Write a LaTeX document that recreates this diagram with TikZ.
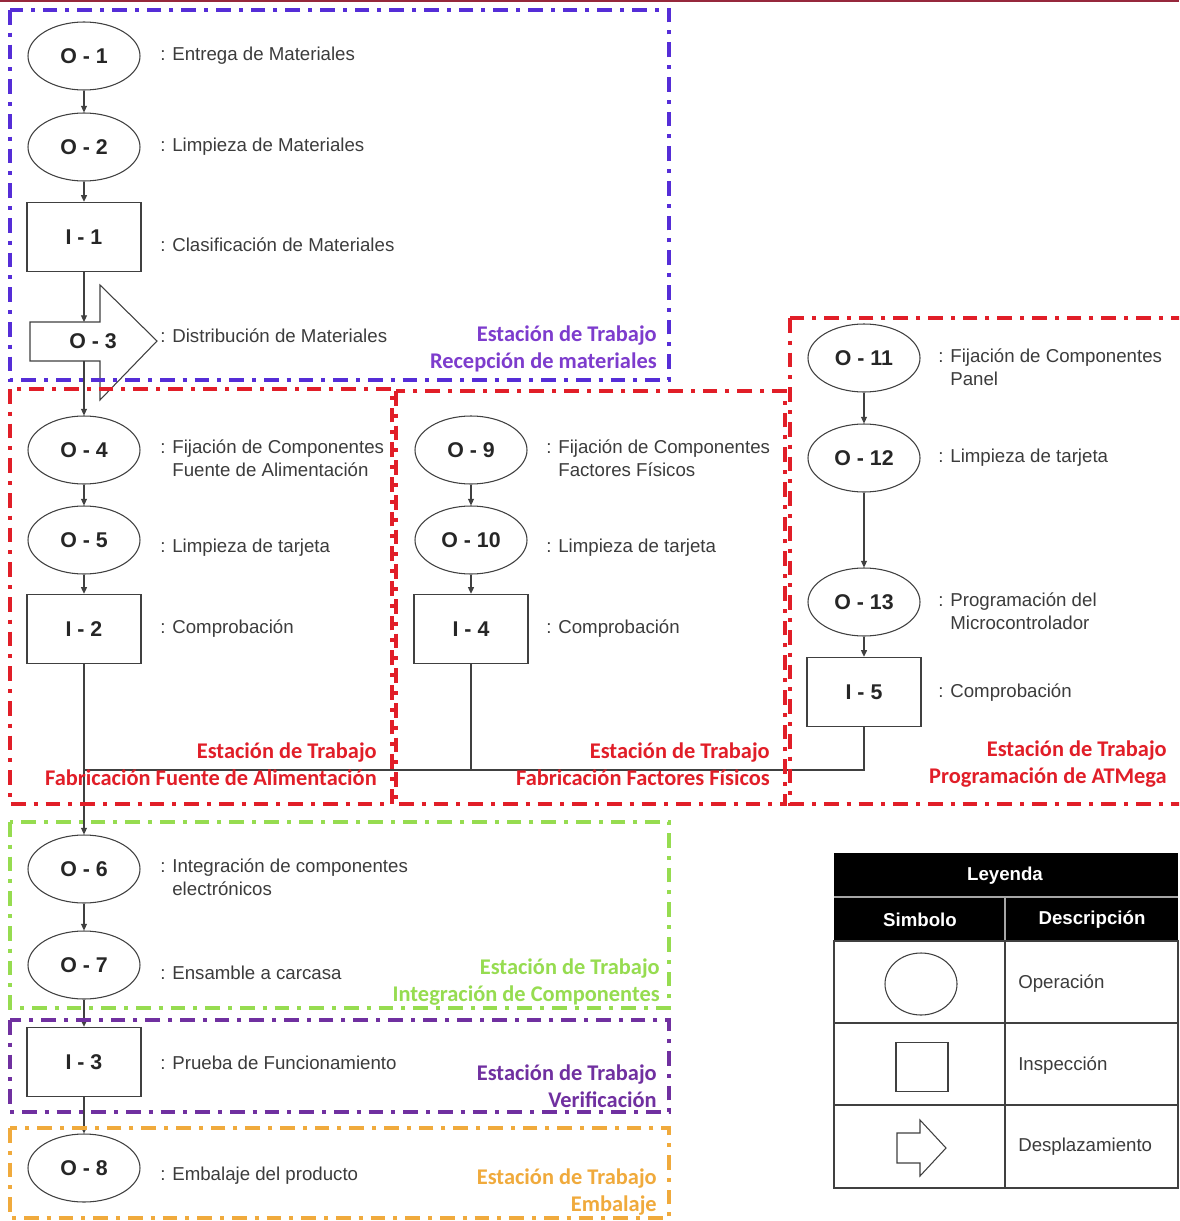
\documentclass[tikz,border=0pt]{standalone}
\usepackage{fontspec}
\setmainfont{Liberation Sans}
\newfontfamily\calibri{Carlito}
\usepackage{tikz}
\usetikzlibrary{arrows.meta,shapes.geometric,positioning}
\usepackage{xcolor}
\definecolor{lineagris}{RGB}{64,64,64}
\definecolor{textogris}{RGB}{60,60,60}
\definecolor{encabezado}{RGB}{150,40,60}
\definecolor{stazul}{RGB}{85,45,215}
\definecolor{stazultxt}{RGB}{125,60,205}
\definecolor{strojo}{RGB}{225,30,40}
\definecolor{stverde}{RGB}{150,220,80}
\definecolor{stmorado}{RGB}{112,48,160}
\definecolor{stnaranja}{RGB}{240,170,60}
\tikzstyle{operacion} = [ellipse, draw=lineagris, fill=white, line width=0.8pt, minimum width=84pt, minimum height=51pt, inner sep=0pt, font=\bfseries\fontsize{16}{19}\selectfont, text=black!85]
\tikzstyle{inspeccion} = [rectangle, draw=lineagris, fill=white, line width=0.8pt, minimum width=85.5pt, minimum height=52pt, inner sep=0pt, font=\bfseries\fontsize{16}{19}\selectfont, text=black!85]
\tikzstyle{desc} = [anchor=west, align=left, inner sep=0pt, font=\fontsize{14}{17}\selectfont, text=textogris]
\tikzstyle{flecha} = [-{Triangle[length=5pt,width=4.5pt]}, color=lineagris, line width=0.8pt]
\tikzstyle{linea} = [color=lineagris, line width=0.8pt]
\tikzstyle{estacion} = [line width=2.6pt, dash pattern=on 11pt off 6pt on 3pt off 6pt]
\tikzstyle{etiqueta} = [anchor=east, align=right, inner sep=0pt, font=\calibri\bfseries\fontsize{16.8}{20.5}\selectfont]

\begin{document}
\begin{tikzpicture}[x=0.75pt, y=-0.75pt]
\clip (0,0) rectangle (1179,1221);
\fill[white] (0,0) rectangle (1179,1221);
\draw[encabezado, line width=1.5pt] (0,0.5) -- (1179,0.5);

% Recepcion de materiales
\node[operacion] (o1) at (84,56) {O - 1};
\node[operacion] (o2) at (84,147) {O - 2};
\node[inspeccion] (i1) at (84,237) {I - 1};
\draw[linea] (30,322) -- (100,322) -- (100,285) -- (157,341) -- (100,400) -- (100,361) -- (30,361) -- cycle;
\node[font=\bfseries\fontsize{16}{19}\selectfont, text=black!85] (o3) at (93,341) {O - 3};
\coordinate (o3in) at (84,322);
\coordinate (o3out) at (84,361);
\node[desc] (do1) at (160,56) {: Entrega de Materiales};
\node[desc] (do2) at (160,147) {: Limpieza de Materiales};
\node[desc] (di1) at (160,245) {: Clasificación de Materiales};
\node[desc] (do3) at (160,336) {: Distribución de Materiales};

% Fuente de alimentacion
\node[operacion] (o4) at (84,450) {O - 4};
\node[operacion] (o5) at (84,540) {O - 5};
\node[inspeccion] (i2) at (84,629) {I - 2};
\node[desc] (do4) at (160,458) {: Fijación de Componentes\\\phantom{: }Fuente de Alimentación};
\node[desc] (do5) at (160,548) {: Limpieza de tarjeta};
\node[desc] (di2) at (160,629) {: Comprobación};

% Factores fisicos
\node[operacion] (o9) at (471,450) {O - 9};
\node[operacion] (o10) at (471,540) {O - 10};
\node[inspeccion] (i4) at (471,629) {I - 4};
\node[desc] (do9) at (546,458) {: Fijación de Componentes\\\phantom{: }Factores Físicos};
\node[desc] (do10) at (546,548) {: Limpieza de tarjeta};
\node[desc] (di4) at (546,629) {: Comprobación};

% ATMega
\node[operacion] (o11) at (864,358) {O - 11};
\node[operacion] (o12) at (864,458) {O - 12};
\node[operacion] (o13) at (864,602) {O - 13};
\node[inspeccion] (i5) at (864,692) {I - 5};
\node[desc] (do11) at (938,367) {: Fijación de Componentes\\\phantom{: }Panel};
\node[desc] (do12) at (938,458) {: Limpieza de tarjeta};
\node[desc] (do13) at (938,611) {: Programación del\\\phantom{: }Microcontrolador};
\node[desc] (di5) at (938,693) {: Comprobación};

% Integracion, verificacion y embalaje
\node[operacion] (o6) at (84,869) {O - 6};
\node[operacion] (o7) at (84,965) {O - 7};
\node[inspeccion] (i3) at (84,1062) {I - 3};
\node[operacion] (o8) at (84,1168) {O - 8};
\node[desc] (do6) at (160,877) {: Integración de componentes\\\phantom{: }electrónicos};
\node[desc] (do7) at (160,973) {: Ensamble a carcasa};
\node[desc] (di3) at (160,1063) {: Prueba de Funcionamiento};
\node[desc] (do8) at (160,1176) {: Embalaje del producto};

% Conexiones
\draw[flecha] (o1) -- (o2);
\draw[flecha] (o2) -- (i1);
\draw[flecha] (i1) -- (o3in);
\draw[flecha] (o3out) -- (o4);
\draw[flecha] (o4) -- (o5);
\draw[flecha] (o5) -- (i2);
\draw[flecha] (i2) -- (o6);
\draw[flecha] (o9) -- (o10);
\draw[flecha] (o10) -- (i4);
\draw[flecha] (o11) -- (o12);
\draw[flecha] (o12) -- (o13);
\draw[flecha] (o13) -- (i5);
\coordinate (union) at (84,770);
\draw[linea] (i4.south) |- (union);
\draw[linea] (i5.south) |- (union);
\draw[flecha] (o6) -- (o7);
\draw[flecha] (o7) -- (i3);
\draw[flecha] (i3) -- (o8);

% Estaciones de trabajo
\draw[estacion, stazul] (10,10) rectangle (669,380);
\draw[estacion, strojo] (10,389) rectangle (392,804);
\draw[estacion, strojo] (396,391) rectangle (785,804);
\draw[estacion, strojo] (790,318) rectangle (1195,804);
\draw[estacion, stverde] (10,822) rectangle (669,1008);
\draw[estacion, stmorado] (10,1020) rectangle (669,1112);
\draw[estacion, stnaranja] (10,1128) rectangle (669,1218);
\node[etiqueta, text=stazultxt] (ereceptor) at (657,349) {Estación de Trabajo\\Recepción de materiales};
\node[etiqueta, text=strojo] (efuente) at (377,764) {Estación de Trabajo\\Fabricación Fuente de Alimentación};
\node[etiqueta, text=strojo] (efactores) at (770,764) {Estación de Trabajo\\Fabricación Factores Físicos};
\node[etiqueta, text=strojo] (eatmega) at (1167,764) {Estación de Trabajo\\Programación de ATMega};
\node[etiqueta, text=stverde] (eintegra) at (660,982) {Estación de Trabajo\\Integración de Componentes};
\node[etiqueta, text=stmorado] (everifica) at (657,1086) {Estación de Trabajo\\Verificación};
\node[etiqueta, text=stnaranja] (eembala) at (657,1192) {Estación de Trabajo\\Embalaje};

% Leyenda
\fill[black] (834,853) rectangle (1178,941);
\draw[gray!70, line width=0.8pt] (834,897) -- (1178,897) (1005,897) -- (1005,941);
\draw[lineagris, line width=0.8pt] (834,941) rectangle (1178,1188);
\draw[lineagris, line width=0.8pt] (834,1023) -- (1178,1023) (834,1105) -- (1178,1105) (1005,941) -- (1005,1188);
\node[text=white, font=\bfseries\fontsize{14}{17}\selectfont] (leyenda) at (1005,876) {Leyenda};
\node[text=white, font=\bfseries\fontsize{14}{17}\selectfont] (simbolo) at (920,920) {Simbolo};
\node[text=white, font=\bfseries\fontsize{14}{17}\selectfont] (descripcion) at (1092,920) {Descripción};
\node[operacion, minimum width=54pt, minimum height=46.5pt] (simop) at (921,984) {};
\node[inspeccion, minimum width=39pt, minimum height=37pt] (simins) at (922,1067) {};
\draw[linea] (897,1133) -- (920,1133) -- (920,1120) -- (946,1148) -- (920,1176) -- (920,1163) -- (897,1163) -- cycle;
\node[desc] (lop) at (1018,984) {Operación};
\node[desc] (lins) at (1018,1066) {Inspección};
\node[desc] (ldes) at (1018,1147) {Desplazamiento};
\end{tikzpicture}
\end{document}
